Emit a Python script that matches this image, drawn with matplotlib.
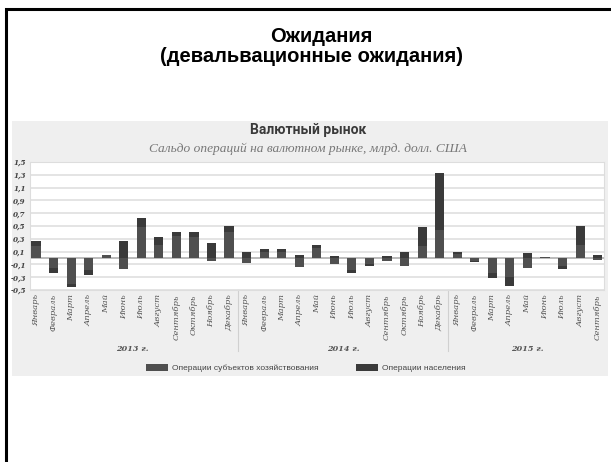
import matplotlib
matplotlib.use("Agg")
import matplotlib.pyplot as plt
from matplotlib.patches import Rectangle
import numpy as np

# месяцы и годы
months = ["Январь", "Февраль", "Март", "Апрель", "Май", "Июнь", "Июль",
          "Август", "Сентябрь", "Октябрь", "Ноябрь", "Декабрь"]
years = ["2013 г.", "2014 г.", "2015 г."]
month_labels = months * 2 + months[:9]

# сальдо, млрд. долл. США
biz = [0.18, -0.16, -0.40, -0.18, 0.05, -0.17, 0.48, 0.20, 0.34, 0.33, -0.05, 0.40,
       -0.08, 0.10, 0.10, -0.14, 0.16, -0.10, -0.18, -0.10, -0.04, -0.12, 0.18, 0.43,
       0.06, -0.05, -0.24, -0.30, -0.16, 0.02, -0.12, 0.20, -0.03]
pop = [0.08, -0.07, -0.06, -0.08, 0.00, 0.26, 0.15, 0.13, 0.07, 0.08, 0.23, 0.10,
       0.09, 0.04, 0.04, 0.05, 0.05, 0.03, -0.06, -0.03, 0.03, 0.09, 0.31, 0.90,
       0.03, -0.02, -0.08, -0.13, 0.08, 0.00, -0.05, 0.30, 0.05]
yticks = [-0.5, -0.3, -0.1, 0.1, 0.3, 0.5, 0.7, 0.9, 1.1, 1.3, 1.5]

W, H = 611, 462


def fx(px):
    return px / W


def fy(py):
    return 1 - py / H


fig = plt.figure(figsize=(W / 100, H / 100), dpi=100)
fig.patch.set_facecolor("white")

# рамка слайда
fig.add_artist(Rectangle((fx(5.5), fy(480)), fx(640), fy(9) - fy(480),
                         transform=fig.transFigure, fill=False,
                         edgecolor="black", lw=2.2, clip_on=False))

fig.text(fx(321), fy(36), "Ожидания", ha="center", va="center",
         fontsize=14.5, fontweight="bold", family="Liberation Sans")
fig.text(fx(311), fy(56), "(девальвационные ожидания)", ha="center", va="center",
         fontsize=14.5, fontweight="bold", family="Liberation Sans")

# серая подложка графика
fig.add_artist(Rectangle((fx(12), fy(376)), fx(596), fy(121) - fy(376),
                         transform=fig.transFigure, facecolor="#efefef",
                         edgecolor="none", zorder=0))

fig.text(fx(308), fy(130), "Валютный рынок", ha="center", va="center",
         fontsize=10, fontweight="bold", family="Roboto", color="#3a3a3a")
fig.text(fx(308), fy(149), "Сальдо операций на валютном рынке, млрд. долл. США",
         ha="center", va="center", fontsize=9.6, style="italic",
         family="Liberation Serif", color="#777777")

ax = fig.add_axes([fx(30), fy(290), fx(574), fy(162) - fy(290)])
ax.set_facecolor("white")

x = np.arange(len(biz))
biz = np.array(biz)
pop = np.array(pop)

pos_base = np.zeros(len(x))
neg_base = np.zeros(len(x))
for vals, col, name in [(biz, "#4f4f4f", "Операции субъектов хозяйствования"),
                        (pop, "#3a3a3a", "Операции населения")]:
    base = np.where(vals >= 0, pos_base, neg_base)
    ax.bar(x, vals, 0.52, bottom=base, color=col, label=name, zorder=3)
    pos_base = pos_base + np.clip(vals, 0, None)
    neg_base = neg_base + np.clip(vals, None, 0)

for t in yticks:
    ax.axhline(t, color="#e2e2e2", lw=1.3, zorder=1)
ax.axhline(0, color="#b5b5b5", lw=1.3, zorder=2)

ax.set_xlim(-0.34, 32.36)
ax.set_ylim(-0.5, 1.5)
ax.set_yticks(yticks)
ax.set_yticklabels([f"{t:.1f}".replace(".", ",") for t in yticks],
                   fontsize=5.2, style="italic", fontweight="bold",
                   family="DejaVu Serif", color="#444444")
ax.set_xticks(x)
ax.set_xticklabels(month_labels, rotation=90, fontsize=6, style="italic",
                   family="DejaVu Serif", color="#555555")
ax.tick_params(length=0, axis="x", pad=3)
ax.tick_params(length=0, axis="y", pad=3)
for s in ax.spines.values():
    s.set_color("#dddddd")
    s.set_linewidth(0.8)

# разделители годов и подписи
for b in [11.5, 23.5]:
    ax.plot([b, b], [-0.5, -1.45], color="#d0d0d0", lw=0.8, clip_on=False)
for yr, c in zip(years, [5.5, 17.5, 28]):
    ax.text(c, -1.42, yr, ha="center", va="center", fontsize=5.8,
            style="italic", fontweight="bold", family="DejaVu Serif",
            color="#555555")

handles, labels = ax.get_legend_handles_labels()
fig.legend(handles, labels, loc="center", bbox_to_anchor=(fx(306), fy(368)),
           ncol=2, frameon=False, handlelength=2.6,
           handleheight=0.9, columnspacing=4.5, handletextpad=0.5,
           prop={"family": "Liberation Sans", "size": 6},
           labelcolor="#444444")

fig.savefig("out.png", dpi=100)
